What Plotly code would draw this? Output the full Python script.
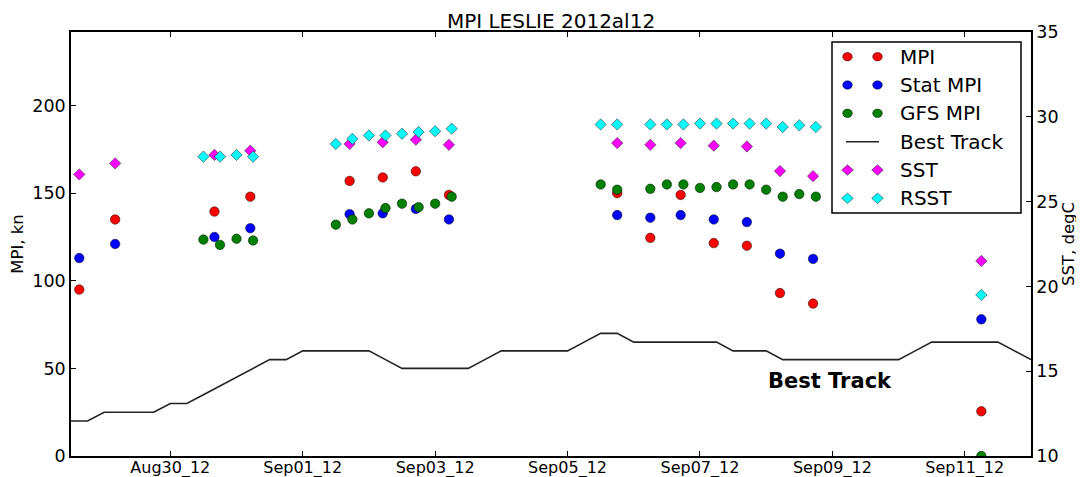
import pandas as pd
import plotly.graph_objects as go

# ---------------- data ----------------
# MPI / Stat MPI / SST come at roughly 12-hourly, off-synoptic times
mpi_times = ["2012-08-28 15:00", "2012-08-29 04:00", "2012-08-30 16:00", "2012-08-31 05:00",
             "2012-09-01 17:00", "2012-09-02 05:00", "2012-09-02 17:00", "2012-09-03 05:00",
             "2012-09-05 18:00", "2012-09-06 06:00", "2012-09-06 17:00", "2012-09-07 05:00",
             "2012-09-07 17:00", "2012-09-08 05:00", "2012-09-08 17:00", "2012-09-11 06:00"]
mpi      = [95, 135, 139.5, 148, 157, 159, 162.5, 149, 150, 124.5, 149, 121.5, 120, 93, 87, 25.5]
stat_mpi = [113, 121, 125, 130, 138, 138.5, 141, 135, 137.5, 136, 137.5, 135, 133.5, 115.5, 112.5, 78]
sst      = [26.6, 27.25, 27.75, 28.0, 28.4, 28.5, 28.65, 28.35, 28.45, 28.35, 28.45, 28.3,
            28.25, 26.8, 26.5, 21.5]

# GFS MPI / RSST come at synoptic 6-hourly times
syn_times = ["2012-08-30 12:00", "2012-08-30 18:00", "2012-08-31 00:00", "2012-08-31 06:00",
             "2012-09-01 12:00", "2012-09-01 18:00", "2012-09-02 00:00", "2012-09-02 06:00",
             "2012-09-02 12:00", "2012-09-02 18:00", "2012-09-03 00:00", "2012-09-03 06:00",
             "2012-09-05 12:00", "2012-09-05 18:00", "2012-09-06 06:00", "2012-09-06 12:00",
             "2012-09-06 18:00", "2012-09-07 00:00", "2012-09-07 06:00", "2012-09-07 12:00",
             "2012-09-07 18:00", "2012-09-08 00:00", "2012-09-08 06:00", "2012-09-08 12:00",
             "2012-09-08 18:00", "2012-09-11 06:00"]
gfs_mpi = [123.5, 120.5, 124, 123, 132, 135, 138.5, 141.5, 144, 142, 144, 148,
           155, 152, 152.5, 155, 155, 153, 153.5, 155, 155, 152, 148, 149.5, 148, 0]
rsst    = [27.65, 27.65, 27.75, 27.65, 28.4, 28.7, 28.9, 28.9, 29.0, 29.1, 29.15, 29.3,
           29.55, 29.55, 29.55, 29.55, 29.55, 29.6, 29.6, 29.6, 29.6, 29.6, 29.4, 29.5, 29.4, 19.5]

# Best track intensity, 6-hourly from 2012-08-28 12Z to 2012-09-12 00Z
bt_start, bt_end = "2012-08-28 12:00", "2012-09-12 00:00"
best_track = [20, 20,
              25, 25, 25, 25,
              30, 30, 35, 40,
              45, 50, 55, 55,
              60, 60, 60, 60,
              60, 55, 50, 50,
              50, 50, 50, 55,
              60, 60, 60, 60,
              60, 65, 70, 70,
              65, 65, 65, 65,
              65, 65, 60, 60,
              60, 55, 55, 55,
              55, 55, 55, 55,
              55, 60, 65, 65,
              65, 65, 65, 60,
              55]
bt_times = pd.date_range(bt_start, bt_end, freq="6h")

title_text = "MPI LESLIE 2012al12"
x_range = ["2012-08-28 12:00", "2012-09-12 00:00"]
y_left_range = [0, 242]
y_left_ticks = [0, 50, 100, 150, 200]
y_right_range = [10, 35]
y_right_ticks = [10, 15, 20, 25, 30, 35]

legend_entries = [("MPI", "circle", "#ff0000"), ("Stat MPI", "circle", "#0000ff"),
                  ("GFS MPI", "circle", "#008000"), ("Best Track", "line", "#222222"),
                  ("SST", "diamond", "#ff00ff"), ("RSST", "diamond", "#00ffff")]

# ---------------- figure geometry ----------------
# The page body has an 8px default margin, so the figure is drawn 8px in from
# the window's top-left corner; size and margins compensate for that.
OFF = 8
W, H = 1084 - OFF, 477 - OFF
PL, PR, PT, PB = 71, 1031, 32, 456          # plot area in window pixels
ML, MR, MT, MB = PL - OFF, W - (PR - OFF), PT - OFF, H - (PB - OFF)
PW, PH = W - ML - MR, H - MT - MB
FONT = "DejaVu Sans"

def px(xp):  # window pixel -> paper (x)
    return (xp - PL) / PW

def py(yp):  # window pixel -> paper (y)
    return (PB - yp) / PH

fig = go.Figure()

circle_line = dict(color="black", width=0.5)
fig.add_trace(go.Scatter(x=mpi_times, y=mpi, mode="markers", name="MPI",
                         marker=dict(symbol="circle", size=9.5, color="#ff0000", line=circle_line)))
fig.add_trace(go.Scatter(x=mpi_times, y=stat_mpi, mode="markers", name="Stat MPI",
                         marker=dict(symbol="circle", size=9.5, color="#0000ff", line=circle_line)))
fig.add_trace(go.Scatter(x=syn_times, y=gfs_mpi, mode="markers", name="GFS MPI",
                         marker=dict(symbol="circle", size=9.5, color="#008000", line=circle_line)))
fig.add_trace(go.Scatter(x=bt_times, y=best_track, mode="lines", name="Best Track",
                         line=dict(color="#222222", width=1.6)))
fig.add_trace(go.Scatter(x=mpi_times, y=sst, mode="markers", name="SST", yaxis="y2",
                         marker=dict(symbol="diamond", size=8.7, color="#ff00ff",
                                     line=dict(color="#333333", width=0.6))))
fig.add_trace(go.Scatter(x=syn_times, y=rsst, mode="markers", name="RSST", yaxis="y2",
                         marker=dict(symbol="diamond", size=8.7, color="#00ffff",
                                     line=dict(color="#333333", width=0.6))))

axis_common = dict(showgrid=False, zeroline=False, showline=True, linecolor="black",
                   linewidth=1.5, ticks="inside", ticklen=5, tickwidth=1, tickcolor="black",
                   tickfont=dict(family=FONT, size=17.5, color="black"), automargin=False)
x_axis_style = dict(axis_common, tickfont=dict(family=FONT, size=16, color="black"))

fig.update_layout(
    width=W, height=H,
    margin=dict(l=ML, r=MR, t=MT, b=MB, pad=0),
    paper_bgcolor="white", plot_bgcolor="white",
    font=dict(family=FONT, color="black"),
    showlegend=False,
    title=dict(text=title_text, x=0.5, xref="paper", xanchor="center",
               y=1 - (21 - OFF) / H, yref="container", yanchor="middle",
               font=dict(family=FONT, size=20, color="black")),
    xaxis=dict(type="date", range=x_range, tick0="2012-08-30", dtick=2 * 86400000,
               tickformat="%b%d_%y", mirror="ticks", ticklabelstandoff=-4, **x_axis_style),
    yaxis=dict(range=y_left_range, tickvals=y_left_ticks, mirror=False,
               title=dict(text="MPI, kn", standoff=6, font=dict(family=FONT, size=16.5)),
               **axis_common),
    yaxis2=dict(range=y_right_range, tickvals=y_right_ticks, overlaying="y", side="right",
                title=dict(text="SST, degC", standoff=4, font=dict(family=FONT, size=16.5)),
                **axis_common),
)

# "Best Track" bold label inside the plot
fig.add_annotation(x="2012-09-08 00:00", y=43, xref="x", yref="y", text="<b>Best Track</b>",
                   showarrow=False, xanchor="left", yanchor="middle",
                   font=dict(family=FONT, size=21, color="black"))

# ---------------- legend (matplotlib style, two markers per entry) ----------------
shapes = [dict(type="rect", xref="paper", yref="paper", x0=px(832), x1=px(1021),
               y0=py(213), y1=py(42), line=dict(color="black", width=1.5),
               fillcolor="white", layer="above")]
row_y = [56.7, 85, 113.3, 141.7, 170, 198.3]
mark_x = [847.5, 877.5]
for (label, kind, color), ry in zip(legend_entries, row_y):
    if kind == "line":
        shapes.append(dict(type="line", xref="paper", yref="paper", x0=px(846), x1=px(879),
                           y0=py(ry), y1=py(ry), line=dict(color=color, width=1.6),
                           layer="above"))
    else:
        for mx in mark_x:
            if kind == "circle":
                shapes.append(dict(type="circle", xref="paper", yref="paper",
                                   xsizemode="pixel", ysizemode="pixel",
                                   xanchor=px(mx), yanchor=py(ry),
                                   x0=-4.8, x1=4.8, y0=-4.2, y1=4.2,
                                   fillcolor=color, line=dict(color="black", width=0.5),
                                   layer="above"))
            else:
                shapes.append(dict(type="path", xref="paper", yref="paper",
                                   xsizemode="pixel", ysizemode="pixel",
                                   xanchor=px(mx), yanchor=py(ry),
                                   path="M0,5.2 L5.8,0 L0,-5.2 L-5.8,0 Z",
                                   fillcolor=color, line=dict(color="#333333", width=0.6),
                                   layer="above"))
    fig.add_annotation(x=px(898), y=py(ry), xref="paper", yref="paper", text=label,
                       showarrow=False, xanchor="left", yanchor="middle",
                       font=dict(family=FONT, size=20, color="black"))
fig.update_layout(shapes=shapes)

fig.write_html("out.html")
